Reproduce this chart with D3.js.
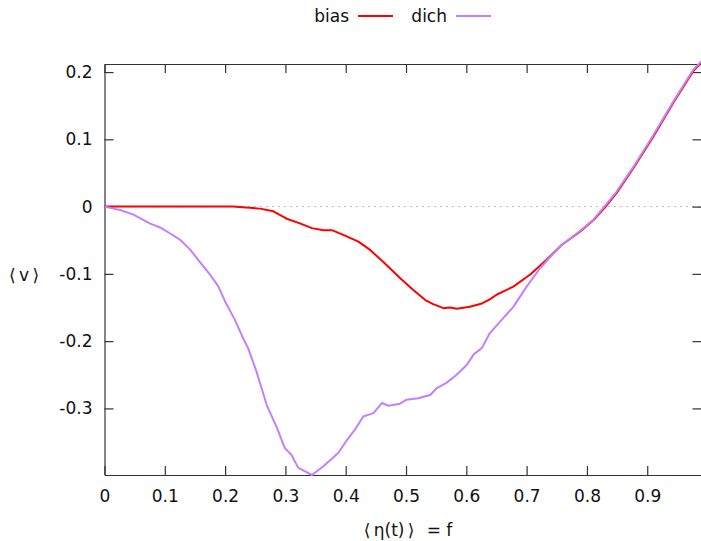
<!DOCTYPE html>
<html>
<head>
<meta charset="utf-8">
<script src="https://cdn.jsdelivr.net/npm/d3@7"></script>
<style>
  body { margin: 0; background: #fff; }
  svg { display: block; font-family: "DejaVu Sans", sans-serif; }
</style>
</head>
<body>
<svg id="chart"></svg>
<script>
// data
const biasX = [0, 0.05, 0.1, 0.15, 0.2, 0.213, 0.258, 0.28, 0.302, 0.324, 0.344, 0.363, 0.377, 0.396, 0.421, 0.44, 0.462, 0.49, 0.512, 0.532, 0.545, 0.562, 0.573, 0.584, 0.606, 0.626, 0.639, 0.65, 0.678, 0.706, 0.733, 0.758, 0.789, 0.811, 0.83, 0.849, 0.877, 0.91, 0.943, 0.976, 0.99];
const biasV = [0, 0, 0, 0, 0, 0, -0.003, -0.007, -0.018, -0.025, -0.032, -0.035, -0.035, -0.042, -0.052, -0.064, -0.082, -0.106, -0.124, -0.139, -0.145, -0.151, -0.15, -0.152, -0.149, -0.144, -0.138, -0.131, -0.119, -0.101, -0.079, -0.057, -0.037, -0.02, -0.001, 0.02, 0.057, 0.104, 0.154, 0.201, 0.214];

const dichX = [0, 0.026, 0.048, 0.075, 0.092, 0.109, 0.125, 0.142, 0.158, 0.175, 0.189, 0.2, 0.216, 0.23, 0.238, 0.252, 0.269, 0.286, 0.299, 0.31, 0.321, 0.344, 0.363, 0.388, 0.402, 0.415, 0.429, 0.446, 0.46, 0.471, 0.49, 0.501, 0.52, 0.54, 0.551, 0.567, 0.584, 0.601, 0.612, 0.626, 0.639, 0.659, 0.678, 0.7, 0.722, 0.742, 0.758, 0.789, 0.811, 0.83, 0.849, 0.877, 0.91, 0.943, 0.976, 0.99];
const dichV = [0, -0.005, -0.012, -0.025, -0.031, -0.04, -0.049, -0.064, -0.082, -0.101, -0.119, -0.141, -0.168, -0.196, -0.21, -0.245, -0.295, -0.329, -0.359, -0.369, -0.388, -0.399, -0.386, -0.366, -0.347, -0.332, -0.312, -0.307, -0.292, -0.296, -0.293, -0.287, -0.285, -0.28, -0.27, -0.262, -0.25, -0.235, -0.22, -0.21, -0.188, -0.168, -0.149, -0.119, -0.092, -0.072, -0.057, -0.036, -0.019, 0.001, 0.022, 0.059, 0.106, 0.156, 0.203, 0.216];

const xTicks = [0, 0.1, 0.2, 0.3, 0.4, 0.5, 0.6, 0.7, 0.8, 0.9];
const yTicks = [-0.3, -0.2, -0.1, 0, 0.1, 0.2];

var width = 701
var height = 541
var pLeft = 104.5, pRight = 701.5, pTop = 64, pBottom = 475
var tickLen = 9

var svg = d3.select("#chart")
    .attr("width", width)
    .attr("height", height)

var x = d3.scaleLinear().domain([0, 0.99]).range([pLeft, pRight])
var y = d3.scaleLinear().domain([-0.399, 0.212]).range([pBottom, pTop])

// dotted zero line
svg.append("line")
  .attr("x1", pLeft).attr("x2", pRight)
  .attr("y1", y(0)).attr("y2", y(0))
  .attr("stroke", "#777")
  .attr("stroke-width", 1)
  .attr("stroke-dasharray", "1,5")

// axes: bottom/left with labels, top/right as mirror ticks
// plain hyphen for negatives like gnuplot, not the unicode minus
var fmt = function(d) { return d === 0 ? "0" : d3.format(".1f")(d).replace("\u2212", "-") }

svg.append("g").attr("transform", "translate(0," + pBottom + ")")
  .call(d3.axisBottom(x).tickValues(xTicks).tickFormat(fmt).tickSizeInner(-tickLen).tickSizeOuter(0).tickPadding(15))
svg.append("g").attr("transform", "translate(0," + pTop + ")")
  .call(d3.axisTop(x).tickValues(xTicks).tickFormat("").tickSizeInner(-tickLen).tickSizeOuter(0))
svg.append("g").attr("transform", "translate(" + pLeft + ",0)")
  .call(d3.axisLeft(y).tickValues(yTicks).tickFormat(fmt).tickSizeInner(-tickLen).tickSizeOuter(0).tickPadding(12))
svg.append("g").attr("transform", "translate(" + pRight + ",0)")
  .call(d3.axisRight(y).tickValues(yTicks).tickFormat("").tickSizeInner(-tickLen).tickSizeOuter(0))

svg.selectAll(".domain, .tick line").attr("stroke", "#333").attr("stroke-width", 1.2)
svg.selectAll(".tick text").attr("fill", "#111").style("font-size", "17px").style("font-family", "DejaVu Sans, sans-serif")

// curves
var line = d3.line()
  .x(function(d) { return x(d[0]) })
  .y(function(d) { return y(d[1]) })

var series = [
  { name: "bias", color: "#ff0000", pts: d3.zip(biasX, biasV) },
  { name: "dich", color: "#c080ff", pts: d3.zip(dichX, dichV) }
]

svg.selectAll("path.curve")
  .data(series)
  .join("path")
  .attr("class", "curve")
  .attr("d", function(d) { return line(d.pts) })
  .attr("fill", "none")
  .attr("stroke", function(d) { return d.color })
  .attr("stroke-width", 2)
  .attr("stroke-linejoin", "round")

// legend
var legX = [349, 447]
var leg = svg.selectAll("g.leg").data(series).join("g").attr("class", "leg")
leg.append("text")
  .attr("x", function(d, i) { return legX[i] })
  .attr("y", 22)
  .attr("text-anchor", "end")
  .style("font-size", "17px")
  .attr("fill", "#111")
  .text(function(d) { return d.name })
leg.append("line")
  .attr("x1", function(d, i) { return legX[i] + 9 })
  .attr("x2", function(d, i) { return legX[i] + 44 })
  .attr("y1", 16).attr("y2", 16)
  .attr("stroke", function(d) { return d.color })
  .attr("stroke-width", 2)

// axis titles
svg.append("text")
  .attr("x", 24).attr("y", 281)
  .attr("text-anchor", "middle")
  .style("font-size", "17px")
  .attr("fill", "#111")
  .style("white-space", "pre")
  .text("\u27E8\u2009v\u2009\u27E9")

svg.append("text")
  .attr("x", 408).attr("y", 536)
  .attr("text-anchor", "middle")
  .style("font-size", "17px")
  .attr("fill", "#111")
  .style("white-space", "pre")
  .text("\u27E8\u2009\u03B7(t)\u2009\u27E9\u2009\u2009 = f")
</script>
</body>
</html>
